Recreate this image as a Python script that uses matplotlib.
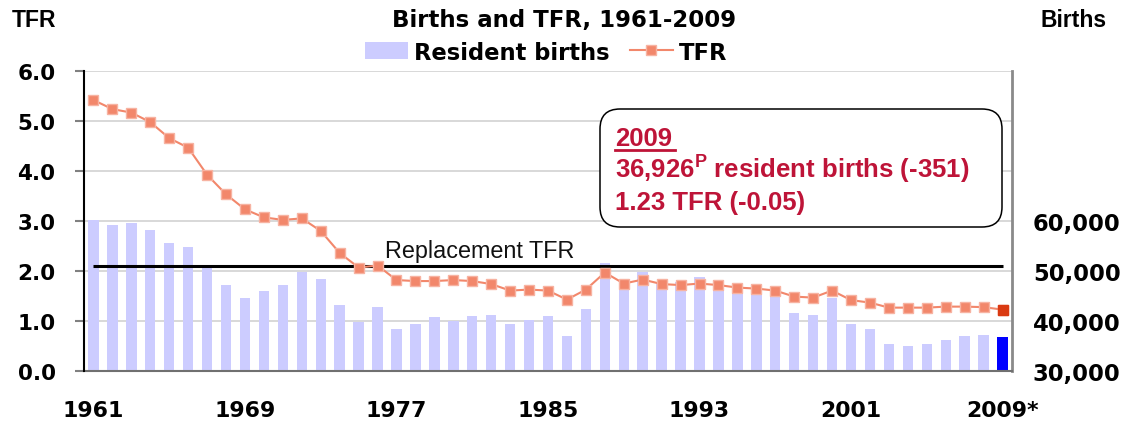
import matplotlib
matplotlib.use("Agg")
import matplotlib.pyplot as plt
from matplotlib.lines import Line2D
from matplotlib.patches import FancyBboxPatch
import numpy as np

# ---------------- data ----------------
years = [str(y) for y in range(1961, 2010)]
tick_years = ['1961', '1969', '1977', '1985', '1993', '2001', '2009*']

births = [60080, 59150, 59550, 58150, 55560, 54770, 50580, 47200, 44610, 46000,
          47200, 49850, 48390, 43210, 39830, 42820, 38430, 39430, 40820, 40030,
          41020, 41220, 39430, 40230, 41020, 37040, 42400, 51550, 46180, 49760,
          47700, 47830, 48770, 48170, 45780, 45580, 45180, 41600, 41200, 44590,
          39410, 38420, 35430, 35035, 35430, 36230, 37025, 37277, 36926]

tfr = [5.41, 5.23, 5.16, 4.97, 4.65, 4.46, 3.92, 3.53, 3.23, 3.07,
       3.02, 3.05, 2.80, 2.36, 2.07, 2.11, 1.82, 1.80, 1.80, 1.82,
       1.80, 1.74, 1.61, 1.63, 1.61, 1.43, 1.63, 1.97, 1.75, 1.83,
       1.74, 1.72, 1.75, 1.72, 1.67, 1.65, 1.61, 1.49, 1.47, 1.61,
       1.42, 1.37, 1.27, 1.27, 1.27, 1.29, 1.29, 1.28, 1.23]

replacement_tfr = 2.1
left_ticks = [0, 1, 2, 3, 4, 5, 6]
left_labels = ['0.0', '1.0', '2.0', '3.0', '4.0', '5.0', '6.0']
right_ticks = [30000, 40000, 50000, 60000, 70000, 80000, 90000]
right_labels = ['30,000', '40,000', '50,000', '60,000', '', '', '']

# ---------------- style ----------------
W, H = 1134, 427
BAR = '#CCCCFF'
BAR_LAST = '#0000FF'
LINE = '#F2876B'
LINE_EDGE = '#F7B3A2'
LAST_MK = '#DA3A12'
RED = '#BE1438'
TRACK = 'DejaVu Sans'
ARIAL = 'Liberation Sans'

plt.rcParams['mathtext.fontset'] = 'custom'
plt.rcParams['mathtext.bf'] = 'Liberation Sans:bold'
plt.rcParams['mathtext.rm'] = 'Liberation Sans'

def fx(x):
    return x / W

def fy(y):
    return 1 - y / H

fig = plt.figure(figsize=(W / 100, H / 100), dpi=100)
left, right, top, bottom = 84, 1012, 71.5, 372.3
ax = fig.add_axes([fx(left), fy(bottom), fx(right) - fx(left), fy(top) - fy(bottom)])
ax2 = ax.twinx()

x = np.arange(len(years))

# bars on births axis
colors = [BAR] * (len(years) - 1) + [BAR_LAST]
bars = ax2.bar(x, births, width=0.55, color=colors, zorder=2, label='Resident births')
ax2.set_ylim(30000, 90000)
ax2.set_yticks(right_ticks)
ax2.set_yticklabels(right_labels)
ax2.yaxis.grid(True, color='#D6D6D6', lw=1.3, zorder=0)
ax2.set_axisbelow(True)
ax2.tick_params(axis='y', length=0, pad=15, labelsize=16.3)
for lab in ax2.get_yticklabels():
    lab.set_fontfamily(TRACK)
    lab.set_fontweight('bold')

# TFR on left axis, drawn on top
ax.set_zorder(ax2.get_zorder() + 1)
ax.patch.set_visible(False)
line, = ax.plot(x, tfr, color=LINE, lw=1.5, marker='s', markersize=7.5,
                markerfacecolor=LINE, markeredgecolor=LINE_EDGE, markeredgewidth=1,
                label='TFR', zorder=3)
ax.plot(x[-1:], tfr[-1:], linestyle='none', marker='s', markersize=7.5,
        markerfacecolor=LAST_MK, markeredgecolor=LAST_MK, zorder=4)
ax.hlines(replacement_tfr, x[0], x[-1], color='black', lw=2.2, zorder=2.5)
ax.text(15.4, replacement_tfr + 0.09, 'Replacement TFR', fontfamily=ARIAL,
        fontsize=16.8, va='bottom', ha='left', color='#111111')

ax.set_xlim(-0.5, len(years) - 0.5)
ax.set_ylim(0, 6)
ax.set_yticks(left_ticks)
ax.set_yticklabels(left_labels)
ax.tick_params(axis='y', length=6.5, width=1.5, color='#808080', pad=14, labelsize=15.5)
for lab in ax.get_yticklabels():
    lab.set_fontfamily(TRACK)
    lab.set_fontweight('bold')

tick_pos = [years.index(t.rstrip('*')) for t in tick_years]
ax.set_xticks(tick_pos)
ax.set_xticklabels(tick_years)
ax.tick_params(axis='x', length=0, pad=21, labelsize=15.8)
for lab in ax.get_xticklabels():
    lab.set_fontfamily(TRACK)
    lab.set_fontweight('bold')
ax2.set_xlim(-0.5, len(years) - 0.5)

for a in (ax, ax2):
    a.spines['top'].set_visible(False)
ax.spines['left'].set_color('black')
ax.spines['left'].set_linewidth(1.5)
ax.spines['right'].set_visible(False)
ax2.spines['left'].set_visible(False)
ax2.spines['right'].set_color('#8A8A8A')
ax2.spines['right'].set_linewidth(2)
ax2.spines['bottom'].set_color('#707070')
ax2.spines['bottom'].set_linewidth(1.5)
ax.spines['bottom'].set_visible(False)

# titles
fig.text(fx(564), fy(20.5), 'Births and TFR, 1961-2009', ha='center', va='center',
         fontfamily=TRACK, fontweight='bold', fontsize=16.5)
fig.text(fx(12), fy(20.5), 'TFR', ha='left', va='center', fontfamily=ARIAL,
         fontweight='bold', fontsize=16.5)
fig.text(fx(1040), fy(20.5), 'Births', ha='left', va='center', fontfamily=ARIAL,
         fontweight='bold', fontsize=16.5)

# legend
leg_line = Line2D([], [], color=LINE, lw=1.5, marker='s', markersize=7,
                  markerfacecolor=LINE, markeredgecolor=LINE_EDGE)
leg = fig.legend([bars, leg_line], ['Resident births', 'TFR'], loc='center',
                 bbox_to_anchor=(fx(546), fy(53)), ncol=2, frameon=False,
                 prop={'family': TRACK, 'weight': 'bold', 'size': 16.3},
                 handlelength=1.9, handleheight=0.8, handletextpad=0.25,
                 columnspacing=0.9, borderpad=0)

# annotation box (in inches, so the corner radius is round)
box = FancyBboxPatch((600 / 100, (H - 228) / 100), (1002 - 600) / 100, (228 - 110) / 100,
                     boxstyle='round,pad=0,rounding_size=0.2',
                     transform=fig.dpi_scale_trans, facecolor='white',
                     edgecolor='black', lw=1.1, zorder=5)
fig.patches.append(box)
fig.text(fx(615), fy(146), '2009', ha='left', va='baseline', color=RED,
         fontfamily=ARIAL, fontweight='bold', fontsize=18.5, zorder=6)
fig.add_artist(Line2D([fx(615), fx(675)], [fy(151), fy(151)], color=RED, lw=2,
                      transform=fig.transFigure, zorder=6))
fig.text(fx(615), fy(178), r'36,926$^{\mathbf{P}}$ resident births (-351)', ha='left',
         va='baseline', color=RED, fontfamily=ARIAL, fontweight='bold',
         fontsize=18.5, zorder=6)
fig.text(fx(615), fy(210), '1.23 TFR (-0.05)', ha='left', va='baseline', color=RED,
         fontfamily=ARIAL, fontweight='bold', fontsize=18.5, zorder=6)

fig.savefig('out.png', dpi=100)
